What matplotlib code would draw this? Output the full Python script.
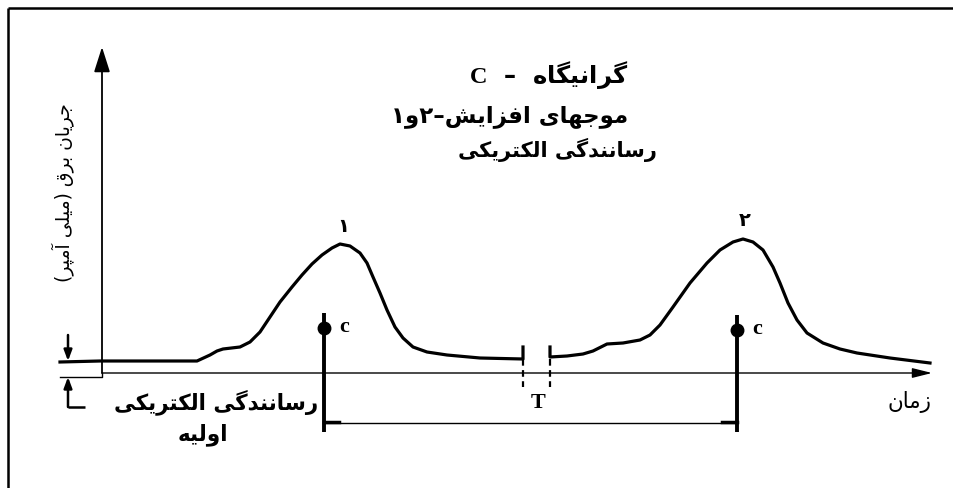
import matplotlib
matplotlib.use("Agg")
import matplotlib.pyplot as plt

# Persian letters: (isolated, final, initial, medial); two forms = joins only on the right
FORMS = {
    "ا": ("\uFE8D", "\uFE8E"), "آ": ("\uFE81", "\uFE82"),
    "د": ("\uFEA9", "\uFEAA"), "ر": ("\uFEAD", "\uFEAE"),
    "ز": ("\uFEAF", "\uFEB0"), "و": ("\uFEED", "\uFEEE"),
    "ب": ("\uFE8F", "\uFE90", "\uFE91", "\uFE92"),
    "پ": ("\uFB56", "\uFB57", "\uFB58", "\uFB59"),
    "ت": ("\uFE95", "\uFE96", "\uFE97", "\uFE98"),
    "ج": ("\uFE9D", "\uFE9E", "\uFE9F", "\uFEA0"),
    "س": ("\uFEB1", "\uFEB2", "\uFEB3", "\uFEB4"),
    "ش": ("\uFEB5", "\uFEB6", "\uFEB7", "\uFEB8"),
    "ف": ("\uFED1", "\uFED2", "\uFED3", "\uFED4"),
    "ق": ("\uFED5", "\uFED6", "\uFED7", "\uFED8"),
    "ک": ("\uFB8E", "\uFB8F", "\uFB90", "\uFB91"),
    "گ": ("\uFB92", "\uFB93", "\uFB94", "\uFB95"),
    "ل": ("\uFEDD", "\uFEDE", "\uFEDF", "\uFEE0"),
    "م": ("\uFEE1", "\uFEE2", "\uFEE3", "\uFEE4"),
    "ن": ("\uFEE5", "\uFEE6", "\uFEE7", "\uFEE8"),
    "ه": ("\uFEE9", "\uFEEA", "\uFEEB", "\uFEEC"),
    "ی": ("\uFBFC", "\uFBFD", "\uFBFE", "\uFBFF"),
}


def fa(s):
    # shape letters and put them in visual (left to right) order
    out = []
    for k, ch in enumerate(s):
        if ch not in FORMS:
            out.append(ch)
            continue
        prev = s[k - 1] if k > 0 else ""
        nxt = s[k + 1] if k + 1 < len(s) else ""
        jp = prev in FORMS and len(FORMS[prev]) == 4
        jn = len(FORMS[ch]) == 4 and nxt in FORMS
        f = FORMS[ch]
        if jp and jn:
            out.append(f[3])
        elif jp:
            out.append(f[1])
        elif jn:
            out.append(f[2])
        else:
            out.append(f[0])
    vis = "".join(reversed(out))
    return vis.translate(str.maketrans("()", ")("))


plt.rcParams["font.family"] = ["DejaVu Sans"]
plt.rcParams["mathtext.fontset"] = "custom"
plt.rcParams["mathtext.bf"] = "Liberation Serif:bold"

# conductivity wave 1 (time, current)
t1 = [-42, -2, 68, 95, 108, 115, 121, 138, 148, 158, 168, 178, 190, 200,
      210, 220, 230, 238, 248, 258, 265, 271, 278, 285, 293, 301, 311, 325,
      345, 378, 421, 421]
i1 = [11, 12, 12, 12, 18, 22, 24, 26, 31, 41, 56, 71, 86, 98,
      109, 118, 125, 129, 127, 120, 110, 96, 80, 63, 46, 35, 26, 21,
      18, 15, 14, 26]
# conductivity wave 2
t2 = [448, 448, 465, 481, 491, 505, 521, 538, 548, 558, 571, 588, 605, 618,
      631, 641, 651, 661, 671, 678, 686, 695, 705, 721, 738, 755, 788, 828]
i2 = [26, 16, 17, 19, 22, 29, 30, 33, 38, 48, 66, 90, 110, 123,
      131, 134, 131, 123, 106, 90, 70, 53, 40, 30, 24, 20, 15, 10]

centroid_t = [222, 635]
centroid_i = [45, 43]
peak_t = [241, 643]
peak_i = [147, 152]
peak_labels = ["۱", "۲"]
break_t = [421, 448]

fig = plt.figure(figsize=(9.54, 4.88), dpi=100)
ax = fig.add_axes([0, 0, 1, 1])
ax.set_xlim(-102, 852)
ax.set_ylim(-115, 373)
ax.axis("off")

# frame (top and left edge only)
ax.plot([-94, 852], [365, 365], color="black", lw=1.8, solid_capstyle="butt")
ax.plot([-94, -94], [365, -115], color="black", lw=1.8, solid_capstyle="butt")

# axes with arrows
ax.annotate("", xy=(0, 326), xytext=(0, 0),
            arrowprops=dict(arrowstyle="-|>,head_length=1.1,head_width=0.35",
                            mutation_scale=14, color="black", lw=1.3,
                            shrinkA=0, shrinkB=0))
ax.annotate("", xy=(830, 0), xytext=(0, 0),
            arrowprops=dict(arrowstyle="-|>,head_length=1.0,head_width=0.25",
                            mutation_scale=12, color="black", lw=1.0,
                            shrinkA=0, shrinkB=0))
ax.plot([-42, 0, 0], [-4, -4, 0], color="black", lw=1.0)

# initial conductivity level marks
ax.annotate("", xy=(-34, 12), xytext=(-34, 38),
            arrowprops=dict(arrowstyle="-|>,head_length=0.8,head_width=0.3",
                            mutation_scale=8, color="black", lw=1.8,
                            shrinkA=0, shrinkB=0))
ax.annotate("", xy=(-34, -4), xytext=(-34, -34),
            arrowprops=dict(arrowstyle="-|>,head_length=0.8,head_width=0.3",
                            mutation_scale=8, color="black", lw=1.8,
                            shrinkA=0, shrinkB=0))
ax.plot([-34, -17], [-34, -34], color="black", lw=1.8, solid_capstyle="butt")

# waves
ax.plot(t1, i1, color="black", lw=2.3, solid_joinstyle="round")
ax.plot(t2, i2, color="black", lw=2.3, solid_joinstyle="round")

# break in time axis
for bt in break_t:
    ax.plot([bt, bt], [14, -14], color="black", lw=1.6, linestyle=(0, (3, 2)))

# centroids
for ct, ci in zip(centroid_t, centroid_i):
    ax.plot([ct, ct], [ci + 15, -59], color="black", lw=2.8, solid_capstyle="butt")
    ax.plot(ct, ci, "o", color="black", markersize=9)
    ax.text(ct + 15, ci + 1, "c", fontfamily="Liberation Serif", fontweight="bold",
            fontsize=16, ha="left", va="center")
ax.plot(centroid_t, [-50, -50], color="black", lw=1.0)
ax.plot([centroid_t[0], centroid_t[0] + 15], [-49, -49], color="black", lw=2.5)
ax.plot([centroid_t[1] - 15, centroid_t[1]], [-49, -49], color="black", lw=2.5)

for pt, pi, lab in zip(peak_t, peak_i, peak_labels):
    ax.text(pt, pi, lab, fontsize=14, fontweight="bold", ha="center", va="center")

ax.text(436, -30, "T", fontfamily="Liberation Serif", fontweight="bold",
        fontsize=16, ha="center", va="center")
ax.text(830, -29, fa("زمان"), fontsize=15.5, ha="right", va="center")

# titles
ax.text(526, 298, r"$\mathbf{C}$" + "  –  " + fa("گرانیگاه"), fontsize=17.5,
        fontweight="bold", ha="right", va="center")
ax.text(526, 256, fa("موجهای افزایش–۲و۱"), fontsize=16.5, fontweight="bold",
        ha="right", va="center")
ax.text(555, 223, fa("رسانندگی الکتریکی"), fontsize=15, fontweight="bold",
        ha="right", va="center")

ax.text(216, -29, fa("رسانندگی الکتریکی"), fontsize=15.5, fontweight="bold",
        ha="right", va="center")
ax.text(101, -62, fa("اولیه"), fontsize=15.5, fontweight="bold",
        ha="center", va="center")
ax.text(-39, 180, fa("جریان برق (میلی آمپر)"), fontsize=13.5, rotation=90,
        ha="center", va="center")

fig.savefig("out.png", dpi=100)
